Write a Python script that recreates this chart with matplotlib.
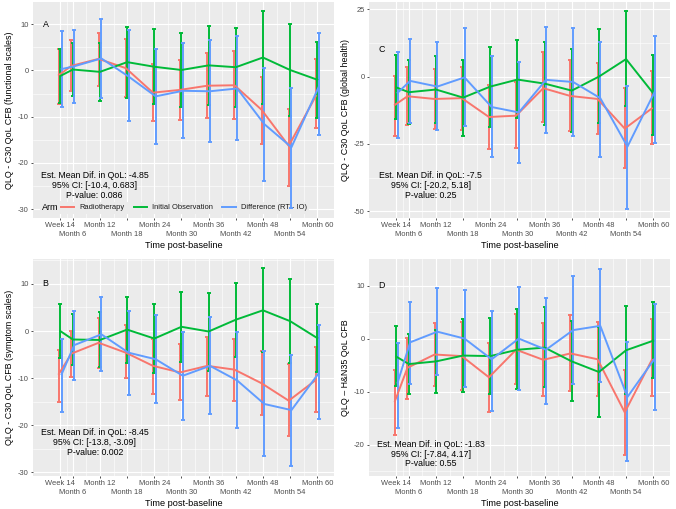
import matplotlib.pyplot as plt
import numpy as np

plt.rcParams['font.family'] = ['Liberation Sans', 'DejaVu Sans']
plt.rcParams['axes.unicode_minus'] = False

# time points in months (week 14 ~ 3.2 months)
months = [14 * 7 / 30.44, 6, 12, 18, 24, 30, 36, 42, 48, 54, 60]
tick_labels = ['Week 14', 'Month 6', 'Month 12', 'Month 18', 'Month 24', 'Month 30',
               'Month 36', 'Month 42', 'Month 48', 'Month 54', 'Month 60']
arms = ['Radiotherapy', 'Initial Observation', 'Difference (RT - IO)']
arm_colors = ['#F8766D', '#00BA38', '#619CFF']

# Panel A - functional scales
a_rt = [-1.0, 1.0, 2.5, 0.5, -4.8, -4.2, -3.3, -3.2, -8.5, -16.3, -5.5]
a_rt_lo = [-7.2, -4.5, -3.3, -5.7, -11.0, -10.7, -10.2, -10.5, -16.0, -25.0, -12.5]
a_rt_hi = [4.6, 6.5, 8.0, 6.8, 1.5, 2.3, 3.7, 4.1, -1.5, -8.3, 2.5]
a_io = [-1.2, 0.2, -0.3, 1.8, 0.8, 0.1, 1.1, 0.7, 2.8, 0.1, -2.0]
a_io_lo = [-7.1, -5.5, -6.6, -6.0, -7.3, -8.0, -7.5, -7.9, -7.2, -9.8, -10.2]
a_io_hi = [4.7, 6.0, 6.0, 9.4, 8.9, 8.2, 9.7, 9.2, 12.8, 10.1, 6.1]
a_df = [0.3, 0.9, 2.6, -1.3, -5.6, -4.4, -4.5, -3.9, -11.6, -16.6, -3.6]
a_df_lo = [-7.9, -7.0, -5.9, -10.9, -15.8, -14.6, -15.4, -15.0, -23.9, -29.8, -14.0]
a_df_hi = [8.5, 8.8, 11.2, 8.7, 4.6, 6.0, 6.6, 7.4, 0.6, -3.8, 8.1]

# Panel B - symptom scales
b_rt = [-9.1, -4.8, -2.5, -4.6, -7.4, -8.8, -7.4, -8.2, -11.1, -14.8, -10.4]
b_rt_lo = [-15.0, -9.8, -7.8, -9.9, -13.3, -14.7, -13.8, -14.8, -17.9, -22.3, -17.2]
b_rt_hi = [-4.0, 0.1, 2.8, 1.3, -1.6, -2.8, -1.2, -1.6, -4.2, -7.1, -3.5]
b_io = [0.0, -1.8, -1.9, 0.3, -1.6, 0.9, -0.1, 2.4, 4.4, 2.1, -1.5]
b_io_lo = [-5.7, -7.3, -7.7, -6.7, -9.0, -6.5, -8.4, -5.5, -4.5, -6.7, -8.8]
b_io_hi = [5.7, 3.6, 4.1, 7.3, 5.7, 8.3, 8.1, 10.1, 13.3, 11.0, 5.8]
b_df = [-9.2, -3.0, -0.7, -4.6, -6.0, -9.5, -7.4, -10.5, -15.5, -16.8, -9.0]
b_df_lo = [-17.2, -10.3, -8.5, -13.5, -15.2, -18.9, -17.7, -20.6, -26.6, -28.6, -18.7]
b_df_hi = [-1.8, 4.3, 7.2, 4.2, 3.4, -0.3, 2.9, -0.3, -4.3, -5.2, 1.2]

# Panel C - global health
c_rt = [-10.5, -7.3, -8.3, -8.0, -15.0, -14.5, -4.3, -7.2, -8.3, -19.3, -11.8]
c_rt_lo = [-22.0, -18.0, -19.5, -20.0, -26.8, -26.5, -17.0, -20.3, -21.3, -34.0, -25.0]
c_rt_hi = [0.3, 3.6, 2.8, 3.6, -3.0, -2.0, 9.0, 6.0, 5.0, -4.3, 2.0]
c_io = [-4.0, -5.8, -4.8, -7.8, -3.7, -1.1, -2.6, -5.2, 0.0, 6.5, -6.2]
c_io_lo = [-15.7, -17.7, -17.3, -22.0, -18.6, -15.3, -18.0, -20.7, -17.3, -11.0, -21.5]
c_io_hi = [8.0, 6.0, 7.8, 6.1, 11.0, 13.5, 12.8, 10.2, 17.5, 24.2, 8.0]
c_df = [-6.0, -1.6, -3.7, -0.3, -11.3, -13.3, -1.2, -2.0, -8.0, -26.0, -5.7]
c_df_lo = [-22.8, -17.2, -20.0, -18.5, -30.0, -32.0, -21.0, -22.0, -30.0, -49.0, -24.5]
c_df_hi = [9.0, 14.0, 12.7, 18.0, 7.5, 5.5, 18.5, 18.2, 13.0, -3.5, 15.0]

# Panel D - H&N35
d_rt = [-11.8, -5.5, -3.0, -3.3, -7.3, -2.1, -4.0, -2.8, -3.9, -13.9, -4.0]
d_rt_lo = [-18.2, -11.3, -8.9, -9.6, -13.8, -8.6, -10.9, -9.9, -10.8, -21.9, -10.8]
d_rt_hi = [-6.0, 0.2, 2.9, 3.1, -0.9, 4.6, 3.0, 4.5, 3.1, -6.0, 3.6]
d_io = [-3.4, -4.8, -4.3, -3.2, -3.3, -2.1, -1.7, -4.3, -6.3, -2.2, -0.4]
d_io_lo = [-9.0, -10.4, -10.3, -10.1, -10.5, -9.5, -9.2, -11.8, -14.7, -10.5, -7.5]
d_io_hi = [2.3, 0.8, 1.7, 3.6, 3.9, 5.5, 5.9, 3.3, 2.2, 6.2, 6.9]
d_df = [-8.3, -0.7, 1.3, 0.0, -3.9, 0.0, -2.1, 1.6, 2.4, -11.0, -3.8]
d_df_lo = [-16.8, -8.5, -6.8, -9.2, -13.7, -9.7, -12.3, -8.5, -8.2, -23.1, -13.4]
d_df_hi = [-0.8, 6.9, 9.5, 9.1, 5.2, 9.8, 7.7, 11.8, 13.2, -0.6, 6.6]

W, H = 676, 509
fig = plt.figure(figsize=(W / 100, H / 100), dpi=100)


def panel(left, bottom_px, top_px, series, ylabel, letter, note, yticks, ylim, note_y):
    ax = fig.add_axes([left / W, 1 - bottom_px / H, 301 / W, (bottom_px - top_px) / H])
    ax.set_facecolor('#EBEBEB')
    for s in ax.spines.values():
        s.set_visible(False)
    ax.set_axisbelow(True)

    dodge = [-0.3, 0.0, 0.3]
    x = np.array(months)
    for (m, lo, hi), col, dx in zip(series, arm_colors, dodge):
        m, lo, hi = np.array(m), np.array(lo), np.array(hi)
        ax.errorbar(x + dx, m, yerr=[m - lo, hi - m], fmt='none', ecolor=col,
                    elinewidth=1.4, capsize=1.3, capthick=1.4, zorder=2)
    for (m, lo, hi), col, dx in zip(series, arm_colors, dodge):
        ax.plot(x + dx, m, color=col, lw=1.4, zorder=3)

    ax.set_xlim(-2.8, 63.7)
    ax.set_ylim(*ylim)
    ax.set_xticks(months)
    ax.set_xticklabels(tick_labels)
    xminor = [(months[i] + months[i + 1]) / 2 for i in range(len(months) - 1)]
    ax.set_xticks(xminor, minor=True)
    ax.set_yticks(yticks)
    ax.set_yticklabels([str(v) for v in yticks])
    step = yticks[1] - yticks[0]
    yminor = [v for v in np.arange(yticks[0] - step / 2, ylim[1], step) if ylim[0] < v < ylim[1]]
    ax.set_yticks(yminor, minor=True)
    ax.grid(which='major', color='white', lw=0.8)
    ax.grid(which='minor', color='white', lw=0.4)
    ax.tick_params(which='major', length=1.6, width=0.6, color='#333333',
                   labelsize=5.4, labelcolor='#4D4D4D', pad=1.5)
    ax.tick_params(which='minor', length=0)
    # stagger every second x label onto a second row
    for i, tk in enumerate(ax.xaxis.get_major_ticks()):
        if i % 2 == 1:
            tk.set_pad(7.6)

    ax.set_xlabel('Time post-baseline', fontsize=6.6, labelpad=2)
    ax.set_ylabel(ylabel, fontsize=6.4)
    ax.yaxis.set_label_coords(-0.062, 0.5)

    ax.text(0, 10, letter, fontsize=6.4, ha='center', va='center')
    ax.text(0.205, note_y, note, transform=ax.transAxes, fontsize=6.3,
            ha='center', va='center', linespacing=1.1)
    return ax


ax_a = panel(33, 218, 2,
             [(a_rt, a_rt_lo, a_rt_hi), (a_io, a_io_lo, a_io_hi), (a_df, a_df_lo, a_df_hi)],
             'QLQ - C30 QoL CFB (functional scales)', 'A',
             'Est. Mean Dif. in QoL: -4.85\n95% CI: [-10.4, 0.683]\nP-value: 0.086',
             [-30, -20, -10, 0, 10], (-31.9, 14.8), 0.15)
panel(369, 218, 2,
      [(c_rt, c_rt_lo, c_rt_hi), (c_io, c_io_lo, c_io_hi), (c_df, c_df_lo, c_df_hi)],
      'QLQ - C30 QoL CFB (global health)', 'C',
      'Est. Mean Dif. in QoL: -7.5\n95% CI: [-20.2, 5.18]\nP-value: 0.25',
      [-50, -25, 0, 25], (-52.5, 27.7), 0.15)
panel(33, 476, 259,
      [(b_rt, b_rt_lo, b_rt_hi), (b_io, b_io_lo, b_io_hi), (b_df, b_df_lo, b_df_hi)],
      'QLQ - C30 QoL CFB (symptom scales)', 'B',
      'Est. Mean Dif. in QoL: -8.45\n95% CI: [-13.8, -3.09]\nP-value: 0.002',
      [-30, -20, -10, 0, 10], (-30.8, 15.3), 0.155)
panel(369, 476, 259,
      [(d_rt, d_rt_lo, d_rt_hi), (d_io, d_io_lo, d_io_hi), (d_df, d_df_lo, d_df_hi)],
      'QLQ – H&N35 QoL CFB', 'D',
      'Est. Mean Dif. in QoL: -1.83\n95% CI: [-7.84, 4.17]\nP-value: 0.55',
      [-20, -10, 0, 10], (-25.9, 15.0), 0.10)

# legend inside panel A, drawn beneath the data like the original
handles = [plt.Line2D([], [], color=c, lw=1.4) for c in arm_colors]
leg = ax_a.legend(handles, arms, loc='center left', bbox_to_anchor=(0.085, 0.047),
                  ncol=3, fontsize=5.4, frameon=True, facecolor='#EBEBEB', edgecolor='none',
                  framealpha=1, handlelength=1.8, handletextpad=0.7, columnspacing=1.2,
                  borderpad=0.3, borderaxespad=0)
leg.set_zorder(1.5)
for t in leg.get_texts():
    t.set_color('#1A1A1A')
ax_a.text(0.03, 0.047, 'Arm', transform=ax_a.transAxes, fontsize=6.5, ha='left', va='center',
          zorder=1.5, bbox=dict(facecolor='#EBEBEB', edgecolor='none', pad=1.5))

fig.savefig('out.png', dpi=100)
